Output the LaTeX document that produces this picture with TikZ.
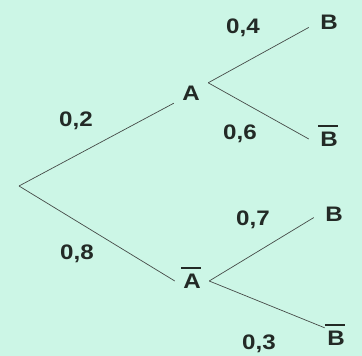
\documentclass[tikz,border=0pt]{standalone}
\usepackage{fontspec}
\setmainfont{Liberation Sans}[FakeStretch=1.15]
\usepackage{xcolor}
\definecolor{FillMint}{RGB}{204,246,230}
\definecolor{LineGray}{RGB}{70,75,72}
\definecolor{TextDark}{RGB}{35,42,38}
\usetikzlibrary{positioning}
% complement: bar over a letter, not counted in the node size
\newcommand{\compl}[1]{\setbox0\hbox{#1}%
  \rlap{\kern-2pt\raisebox{\dimexpr\ht0+5pt\relax}[0pt][0pt]{\rule{\dimexpr\wd0+2pt\relax}{1.6pt}}}\box0}
\tikzset{
  % Event nodes (A, B and their complements)
  event/.style={
    font=\fontsize{21}{21}\selectfont\bfseries, text=TextDark,
    inner sep=0pt, minimum width=34pt, minimum height=20pt
  },
  leaf/.style={event, minimum width=40pt},
  % Branch probabilities
  prob/.style={
    font=\fontsize{21}{21}\selectfont\bfseries, text=TextDark,
    inner sep=1pt, text depth=0pt
  },
  % Branches
  branch/.style={LineGray, line width=0.7pt},
}

\begin{document}
\begin{tikzpicture}[x=1pt,y=-1pt]
  \fill[FillMint] (0,0) rectangle (362,356);
  \coordinate (O) at (19,186);
  \node[event] (A) at (191,93) {A};
  \node[event] (Ab) at (192,281) {\compl{A}};
  \node[leaf] (B1) at (329,22) {B};
  \node[leaf] (Bb1) at (329,139) {\compl{B}};
  \node[leaf] (B2) at (334,214) {B};
  \node[leaf] (Bb2) at (336,338) {\compl{B}};
  % branches
  \draw[branch] (O) -- (A.south west);
  \draw[branch] (O) -- (Ab.west);
  \draw[branch] (A.north east) -- (B1.195);
  \draw[branch] (A.north east) -- (Bb1.west);
  \draw[branch] (Ab.east) -- (B2.190);
  \draw[branch] (Ab.east) -- (Bb2.138);
  % probabilities
  \node[prob] (p1) at (76,119) {0,2};
  \node[prob] (p2) at (77,252) {0,8};
  \node[prob] (p3) at (243,26) {0,4};
  \node[prob] (p4) at (240,132) {0,6};
  \node[prob] (p5) at (253,218) {0,7};
  \node[prob] (p6) at (259,342) {0,3};
\end{tikzpicture}
\end{document}
